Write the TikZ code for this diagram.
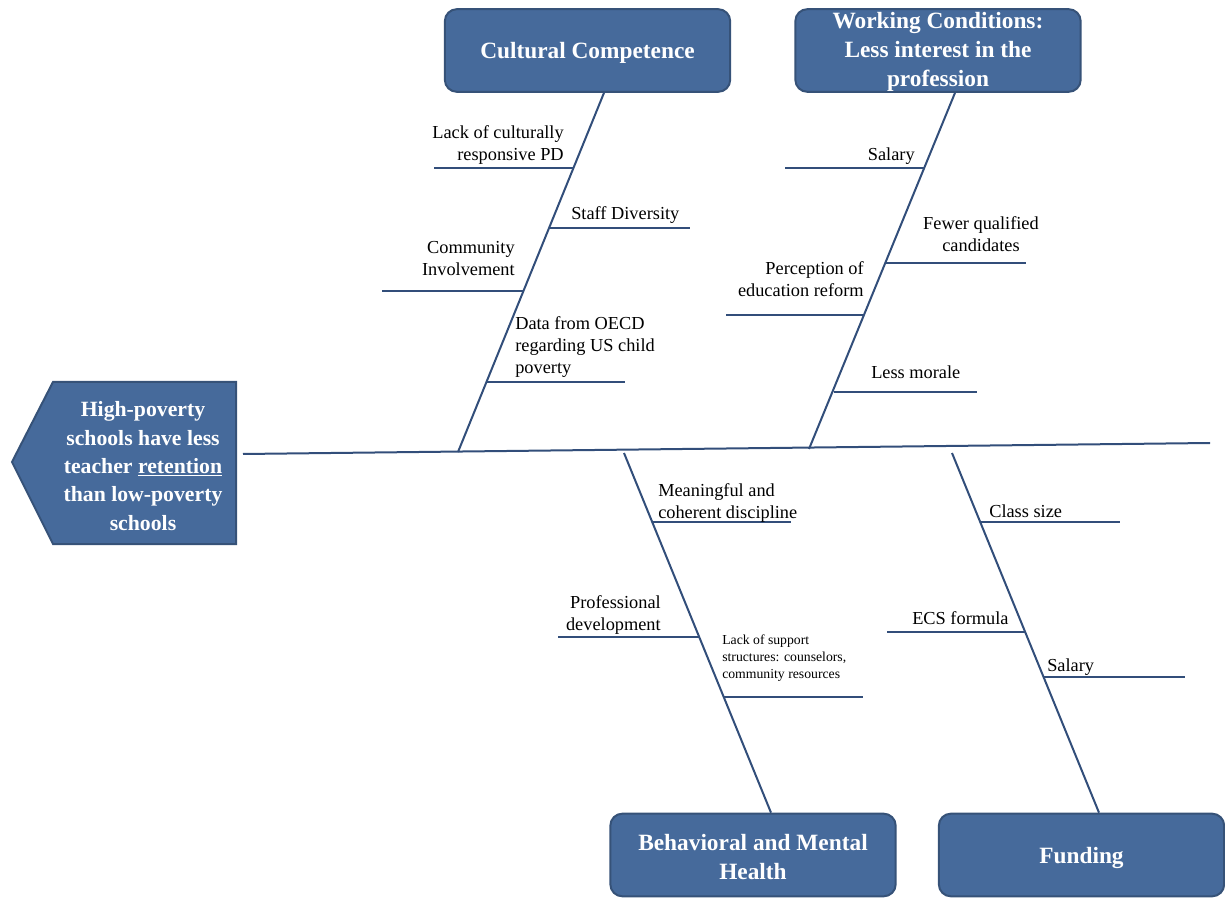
\documentclass[tikz,border=0pt]{standalone}
\usepackage{fontspec}
\setmainfont{Liberation Serif}
\usetikzlibrary{calc}
\definecolor{boxfill}{RGB}{70,106,155}
\definecolor{boxdraw}{RGB}{54,82,120}
\definecolor{bonecol}{RGB}{50,78,122}
\tikzset{
  catbox/.style={draw=boxdraw, line width=1.5pt, fill=boxfill, rounded corners=9pt,
    minimum width=214pt, minimum height=62pt, inner sep=0pt},
  cattext/.style={text=white, font=\fontsize{17.5}{21.6}\selectfont\bfseries,
    align=center, inner sep=0pt},
  boneline/.style={draw=bonecol, line width=1.5pt},
  lbl/.style={font=\fontsize{13.75}{16.5}\selectfont, inner sep=0pt},
  smalllbl/.style={font=\fontsize{10.3}{12.4}\selectfont, inner sep=0pt, align=left}
}
\begin{document}
\begin{tikzpicture}[x=0.75pt,y=-0.75pt]
\useasboundingbox (0,0) rectangle (1225,898);

% head (effect)
\draw[draw=boxdraw, line width=1.5pt, fill=boxfill]
  (12,462) -- (53,382) -- (236,382) -- (236,544) -- (53,544) -- cycle;
\node[text=white, font=\fontsize{16.3}{21.3}\selectfont\bfseries, align=center, inner sep=0pt]
  (head) at (143,466) {High-poverty\\schools have less\\teacher \underline{retention}\\than low-poverty\\schools};

% spine
\coordinate (spineL) at (243,454);
\coordinate (spineR) at (1210,443);
\draw[boneline] (spineL) -- (spineR);

% category boxes
\node[catbox] (cult) at (587.5,50.5) {};
\node[cattext] (cultT) at ($(cult.center)+(0,2.5)$) {Cultural Competence};
\node[catbox] (work) at (938,50.5) {};
\node[cattext] (workT) at ($(work.center)+(0,1.5)$) {Working Conditions:\\Less interest in the\\profession};
\node[catbox] (behav) at (753,855) {};
\node[cattext] (behavT) at ($(behav.center)+(0,2)$) {Behavioral and Mental\\Health};
\node[catbox] (fund) at (1081.5,855) {};
\node[cattext] (fundT) at ($(fund.center)+(0,3)$) {Funding};

% bones
\coordinate (cultE) at (458,452);
\coordinate (workE) at (809,449);
\coordinate (behavE) at (624,453);
\coordinate (fundE) at (952,453);
\draw[boneline] (cult.south -| 604,0) -- (cultE);
\draw[boneline] (work.south -| 955,0) -- (workE);
\draw[boneline] (behav.north -| 771,0) -- (behavE);
\draw[boneline] (fund.north -| 1099,0) -- (fundE);

% Cultural competence sub-causes
\coordinate (c1a) at (434,168); \coordinate (c1b) at (573,168);
\draw[boneline] (c1a) -- (c1b);
\node[lbl, align=right, anchor=north east] (c1) at (564,125) {Lack of culturally\\responsive PD};
\coordinate (c2a) at (549,228); \coordinate (c2b) at (690,228);
\draw[boneline] (c2a) -- (c2b);
\node[lbl, anchor=north west] (c2) at (571,206) {Staff Diversity};
\coordinate (c3a) at (382,291); \coordinate (c3b) at (523,291);
\draw[boneline] (c3a) -- (c3b);
\node[lbl, align=right, anchor=north east] (c3) at (515,241) {Community\\Involvement};
\coordinate (c4a) at (487,382); \coordinate (c4b) at (625,382);
\draw[boneline] (c4a) -- (c4b);
\node[lbl, align=left, anchor=north west] (c4) at (515,316) {Data from OECD\\regarding US child\\poverty};

% Working conditions sub-causes
\coordinate (w1a) at (785,168); \coordinate (w1b) at (924,168);
\draw[boneline] (w1a) -- (w1b);
\node[lbl, anchor=north east] (w1) at (915,148) {Salary};
\coordinate (w2a) at (886,263); \coordinate (w2b) at (1026,263);
\draw[boneline] (w2a) -- (w2b);
\node[lbl, align=center, anchor=north] (w2) at (981,216) {Fewer qualified\\candidates};
\coordinate (w3a) at (726,315); \coordinate (w3b) at (864,315);
\draw[boneline] (w3a) -- (w3b);
\node[lbl, align=right, anchor=north east] (w3) at (864,261) {Perception of\\education reform};
\coordinate (w4a) at (834,392); \coordinate (w4b) at (977,392);
\draw[boneline] (w4a) -- (w4b);
\node[lbl, anchor=north west] (w4) at (871,366) {Less morale};

% Behavioral sub-causes
\coordinate (b1a) at (652,522); \coordinate (b1b) at (791,522);
\draw[boneline] (b1a) -- (b1b);
\node[lbl, align=left, anchor=north west] (b1) at (658,483) {Meaningful and\\coherent discipline};
\coordinate (b2a) at (558,637); \coordinate (b2b) at (699,637);
\draw[boneline] (b2a) -- (b2b);
\node[lbl, align=right, anchor=north east] (b2) at (661,595) {Professional\\development};
\coordinate (b3a) at (724,697); \coordinate (b3b) at (863,697);
\draw[boneline] (b3a) -- (b3b);
\node[smalllbl, anchor=north west] (b3) at (722,635) {Lack of support\\structures: counselors,\\community resources};

% Funding sub-causes
\coordinate (f1a) at (980,522); \coordinate (f1b) at (1120,522);
\draw[boneline] (f1a) -- (f1b);
\node[lbl, anchor=north west] (f1) at (989,505) {Class size};
\coordinate (f2a) at (887,632); \coordinate (f2b) at (1025,632);
\draw[boneline] (f2a) -- (f2b);
\node[lbl, anchor=north west] (f2) at (912,611) {ECS formula};
\coordinate (f3a) at (1044,677); \coordinate (f3b) at (1185,677);
\draw[boneline] (f3a) -- (f3b);
\node[lbl, anchor=north west] (f3) at (1047,659) {Salary};
\end{tikzpicture}
\end{document}
